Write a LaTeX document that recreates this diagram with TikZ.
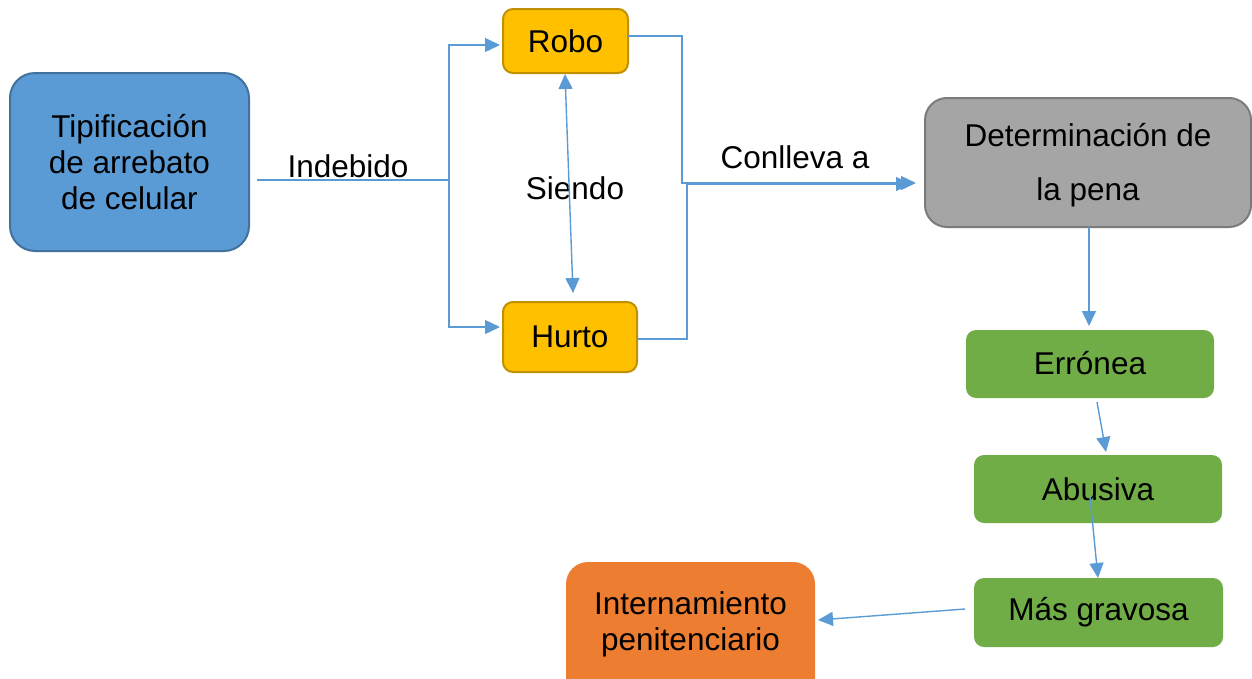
\documentclass[tikz,border=0pt]{standalone}
\usepackage{fontspec}
\setmainfont{Liberation Sans}
\usetikzlibrary{arrows.meta}
\definecolor{lineblue}{HTML}{5B9BD5}
\definecolor{bluefill}{HTML}{5B9BD5}
\definecolor{blueedge}{HTML}{41719C}
\definecolor{goldfill}{HTML}{FFC000}
\definecolor{goldedge}{HTML}{BF9000}
\definecolor{grayfill}{HTML}{A5A5A5}
\definecolor{grayedge}{HTML}{7B7B7B}
\definecolor{greenfill}{HTML}{70AD47}
\definecolor{orangefill}{HTML}{ED7D31}
\tikzset{
  box/.style={rectangle, inner sep=0pt, align=center, font=\fontsize{31.5}{36}\selectfont},
  bluebox/.style={box, fill=bluefill, draw=blueedge, line width=2pt, rounded corners=25pt},
  goldbox/.style={box, fill=goldfill, draw=goldedge, line width=2pt, rounded corners=10pt},
  graybox/.style={box, fill=grayfill, draw=grayedge, line width=2pt, rounded corners=22pt},
  greenbox/.style={box, fill=greenfill, rounded corners=10pt},
  orangebox/.style={box, fill=orangefill, rounded corners=22pt},
  lbl/.style={inner sep=0pt, align=center, font=\fontsize{31.5}{36}\selectfont},
  conn/.style={draw=lineblue, line width=1.4pt},
  arr/.style={conn, -{Triangle[length=15pt,width=14pt]}},
  darr/.style={conn, {Triangle[length=15pt,width=14pt]}-{Triangle[length=15pt,width=14pt]}},
}
\begin{document}
\begin{tikzpicture}[x=1pt,y=-1pt]
\useasboundingbox (0,0) rectangle (1252,678);
% boxes
\node[bluebox, minimum width=239pt, minimum height=178pt] (tip) at (129.5,162) {Tipificación\\de arrebato\\de celular};
\node[goldbox, minimum width=125pt, minimum height=64pt] (robo) at (565.5,41) {\raisebox{-2pt}{Robo}};
\node[goldbox, minimum width=134pt, minimum height=70pt] (hurto) at (570,337) {Hurto};
\node[graybox, minimum width=326pt, minimum height=129pt] (det) at (1088,162.5) {};
\node[lbl, font=\fontsize{31.5}{54}\selectfont] (dettext) at (1088,165.5) {Determinación de\\la pena};
\node[greenbox, minimum width=248pt, minimum height=68pt] (err) at (1090,364) {\raisebox{2pt}{Errónea}};
\node[greenbox, minimum width=248pt, minimum height=68pt] (abus) at (1098,489) {Abusiva};
\node[greenbox, minimum width=249pt, minimum height=69pt] (mas) at (1098.5,612.5) {Más gravosa};
\node[orangebox, minimum width=249pt, minimum height=140pt] (intern) at (690.5,632) {};
\node[lbl] (interntext) at (690.5,624) {Internamiento\\penitenciario};
% labels
\node[lbl] (indebido) at (348,166) {Indebido};
\node[lbl] (siendo) at (575,188) {Siendo};
\node[lbl] (conlleva) at (795,157) {Conlleva a};
% junction coordinates
\coordinate (tipout) at (257,180);
\coordinate (split) at (449,180);
\coordinate (roboin) at (500,45);
\coordinate (hurtoin) at (500,327);
\coordinate (sa) at (565,74);
\coordinate (sb) at (573,293);
\coordinate (roboout) at (628,36);
\coordinate (j1) at (682,183);
\coordinate (hurtoout) at (637,339);
\coordinate (j2) at (687,184);
\coordinate (detin1) at (916,183);
\coordinate (detin2) at (911,184);
\coordinate (detout) at (1089,227);
\coordinate (errin) at (1089,326);
\coordinate (errout) at (1097,402);
\coordinate (abusin) at (1106,452);
\coordinate (abusout) at (1090,497);
\coordinate (masin) at (1098,578);
\coordinate (masout) at (965,609);
\coordinate (internin) at (818,620);
% connectors
\draw[conn] (tipout) -- (split);
\draw[arr] (split) |- (roboin);
\draw[arr] (split) |- (hurtoin);
\draw[darr] (sa) -- (sb);
\draw[arr] (roboout) -| (j1) -- (detin1);
\draw[arr] (hurtoout) -| (j2) -- (detin2);
\draw[arr] (detout) -- (errin);
\draw[arr] (errout) -- (abusin);
\draw[arr] (abusout) -- (masin);
\draw[arr] (masout) -- (internin);
\end{tikzpicture}
\end{document}
